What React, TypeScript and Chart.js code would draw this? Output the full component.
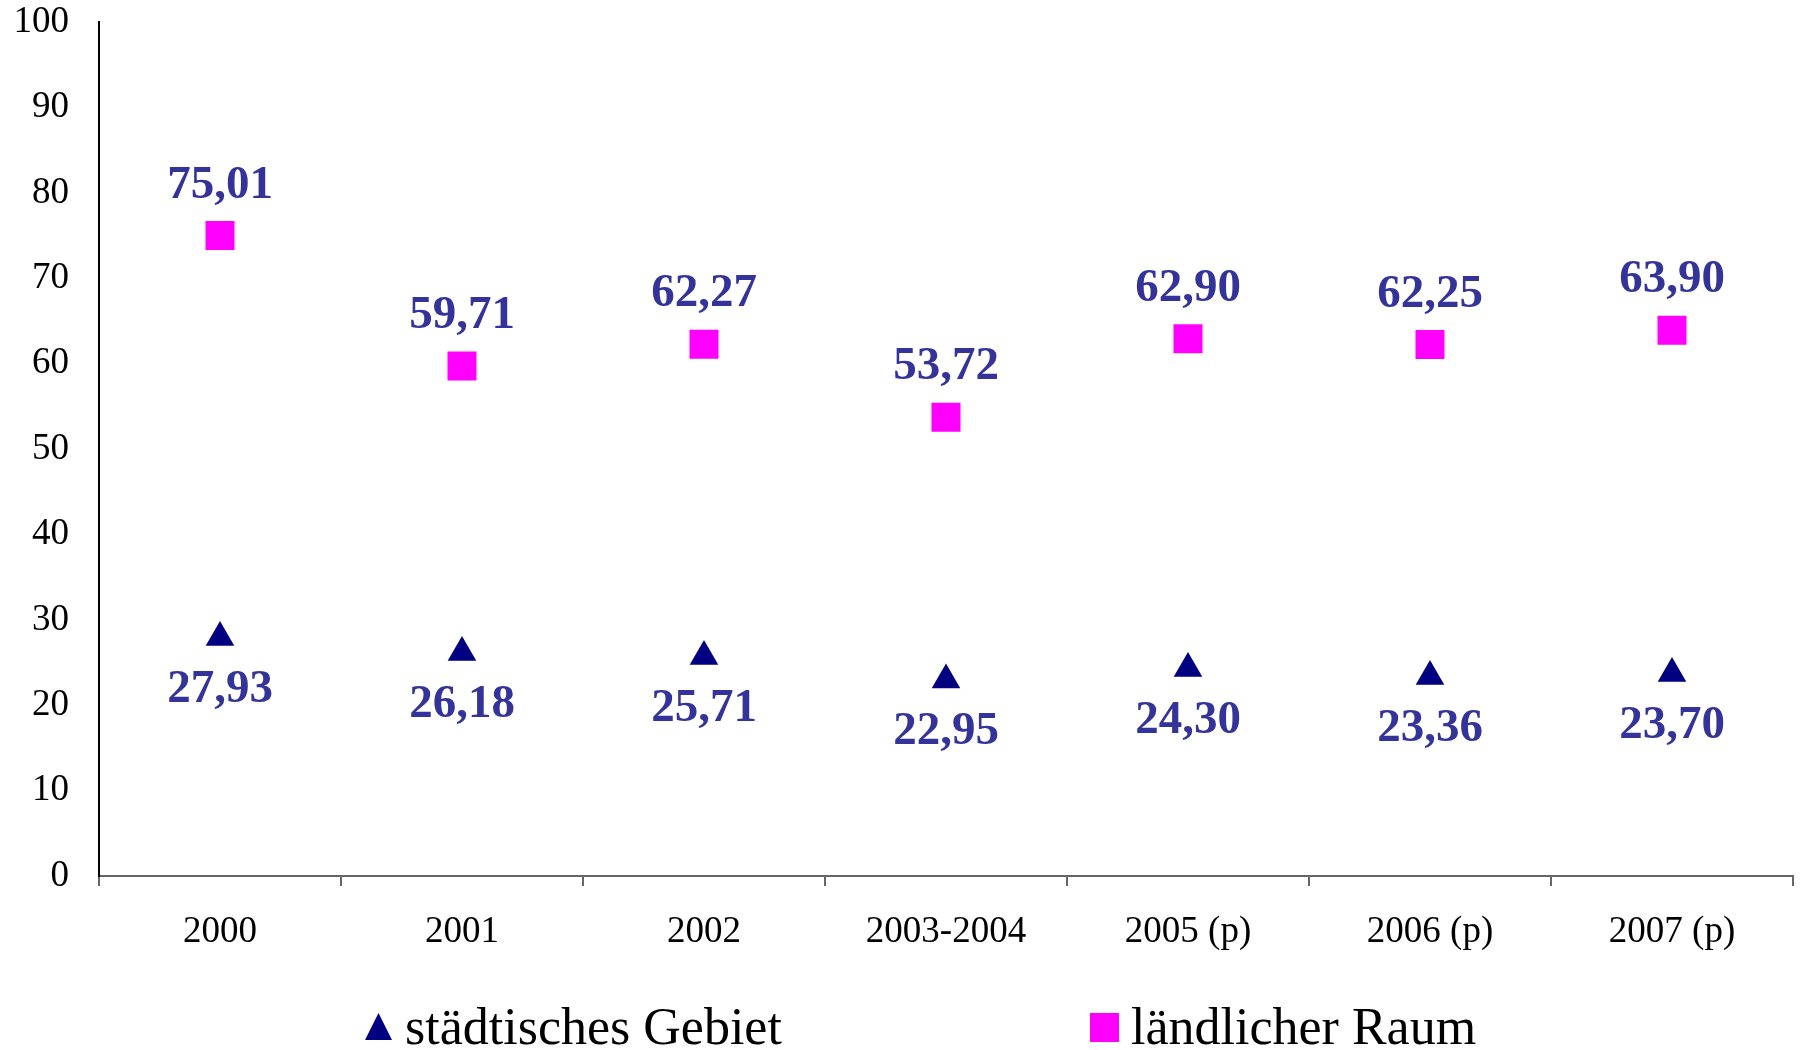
import React, { useEffect, useRef } from "react";
import { Chart, registerables } from "chart.js";

Chart.register(...registerables);

const categories = ["2000", "2001", "2002", "2003-2004", "2005 (p)", "2006 (p)", "2007 (p)"];
const urbanValues = [27.93, 26.18, 25.71, 22.95, 24.3, 23.36, 23.7];
const ruralValues = [75.01, 59.71, 62.27, 53.72, 62.9, 62.25, 63.9];
const seriesNames = ["städtisches Gebiet", "ländlicher Raum"];
const yTicksMin = 0;
const yTicksMax = 100;
const yTickStep = 10;

const SERIF = '"Liberation Serif", "Times New Roman", serif';
const URBAN_COLOR = "#000080";
const RURAL_COLOR = "#FF00FF";
const LABEL_COLOR = "#333399";

const fmt = (v: number) => v.toFixed(2).replace(".", ",");

const valueLabelsPlugin = {
  id: "valueLabels",
  afterDatasetsDraw(chart: any) {
    const ctx = chart.ctx;
    ctx.save();
    ctx.font = `bold 47px ${SERIF}`;
    ctx.fillStyle = LABEL_COLOR;
    ctx.textAlign = "center";
    ctx.textBaseline = "middle";
    chart.data.datasets.forEach((ds: any, di: number) => {
      const meta = chart.getDatasetMeta(di);
      meta.data.forEach((pt: any, i: number) => {
        const v = ds.data[i];
        const dy = di === 0 ? 52 : -50;
        ctx.fillText(fmt(v), pt.x, pt.y + dy);
      });
    });
    ctx.restore();
  },
};

const customLegendPlugin = {
  id: "customLegend",
  afterDraw(chart: any) {
    const ctx = chart.ctx;
    const w = chart.width;
    const baseY = 1044;
    ctx.save();
    const tx = w * (378.5 / 1800);
    ctx.fillStyle = URBAN_COLOR;
    ctx.beginPath();
    ctx.moveTo(tx, 1013);
    ctx.lineTo(tx + 13.5, 1040);
    ctx.lineTo(tx - 13.5, 1040);
    ctx.closePath();
    ctx.fill();
    const sx = w * (1104.5 / 1800);
    ctx.fillStyle = RURAL_COLOR;
    ctx.fillRect(sx - 14.5, 1013, 29, 29);
    ctx.fillStyle = "#000";
    ctx.font = `52px ${SERIF}`;
    ctx.textAlign = "left";
    ctx.textBaseline = "alphabetic";
    ctx.fillText(seriesNames[0], w * (405 / 1800), baseY);
    ctx.fillText(seriesNames[1], w * (1131 / 1800), baseY);
    ctx.restore();
  },
};

export default function App() {
  const canvasRef = useRef<HTMLCanvasElement | null>(null);

  useEffect(() => {
    if (!canvasRef.current) return;
    const chart = new Chart(canvasRef.current, {
      type: "line",
      data: {
        labels: categories,
        datasets: [
          {
            label: seriesNames[0],
            data: urbanValues,
            showLine: false,
            pointStyle: "triangle",
            pointRadius: 16.5,
            pointHoverRadius: 16.5,
            pointBackgroundColor: URBAN_COLOR,
            pointBorderColor: URBAN_COLOR,
            pointBorderWidth: 0,
            backgroundColor: URBAN_COLOR,
            borderColor: URBAN_COLOR,
          },
          {
            label: seriesNames[1],
            data: ruralValues,
            showLine: false,
            pointStyle: "rect",
            pointRadius: 20.5,
            pointHoverRadius: 20.5,
            pointBackgroundColor: RURAL_COLOR,
            pointBorderColor: RURAL_COLOR,
            pointBorderWidth: 0,
            backgroundColor: RURAL_COLOR,
            borderColor: RURAL_COLOR,
          },
        ],
      },
      options: {
        responsive: false,
        animation: false,
        layout: { autoPadding: false, padding: { top: 22, right: 7, bottom: 94, left: 0 } },
        plugins: {
          legend: { display: false },
          tooltip: { enabled: false },
          title: { display: false },
        },
        scales: {
          x: {
            type: "category",
            offset: true,
            grid: {
              display: true,
              drawOnChartArea: false,
              drawTicks: true,
              tickLength: 10,
              offset: true,
              color: "#666",
              lineWidth: 2,
            },
            border: { display: true, color: "#666", width: 2 },
            ticks: {
              color: "#000",
              font: { family: SERIF, size: 37 },
              padding: 24,
              maxRotation: 0,
              autoSkip: false,
            },
            afterFit: (s: any) => {
              s.height = 80;
              s.paddingLeft = 0;
              s.paddingRight = 0;
            },
          },
          y: {
            min: yTicksMin,
            max: yTicksMax,
            grid: { display: false },
            border: { display: true, color: "#000", width: 2 },
            ticks: {
              stepSize: yTickStep,
              color: "#000",
              font: { family: SERIF, size: 37 },
              padding: 22,
            },
            afterFit: (s: any) => {
              s.width = 99;
              s.paddingTop = 0;
              s.paddingBottom = 0;
            },
          },
        },
      },
      plugins: [valueLabelsPlugin, customLegendPlugin],
    } as any);
    return () => chart.destroy();
  }, []);

  return (
    <div style={{ position: "fixed", left: 0, top: 0, width: 1800, height: 1050, background: "#fff" }}>
      <canvas ref={canvasRef} width={1800} height={1050} style={{ display: "block" }} />
    </div>
  );
}
